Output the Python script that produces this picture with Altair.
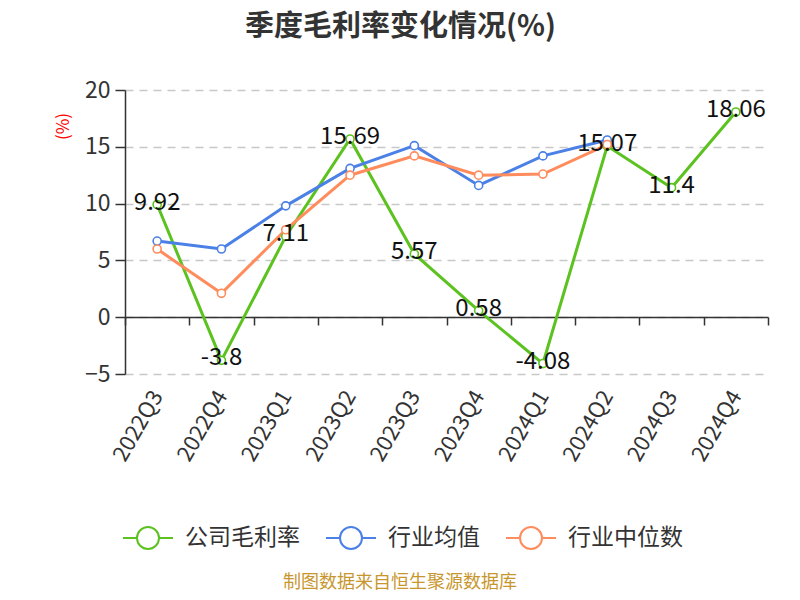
import altair as alt
import pandas as pd

quarters = ["2022Q3", "2022Q4", "2023Q1", "2023Q2", "2023Q3", "2023Q4",
            "2024Q1", "2024Q2", "2024Q3", "2024Q4"]
company = [9.92, -3.8, 7.11, 15.69, 5.57, 0.58, -4.08, 15.07, 11.4, 18.06]
ind_mean = [6.7, 6.0, 9.8, 13.1, 15.1, 11.6, 14.2, 15.6, None, None]
ind_median = [6.0, 2.1, 7.7, 12.5, 14.2, 12.5, 12.6, 15.2, None, None]

series_names = ["公司毛利率", "行业均值", "行业中位数"]
series_colors = ["#5BC21F", "#4B80E6", "#FF8C5C"]

rows = []
for name, vals in zip(series_names, [company, ind_mean, ind_median]):
    for q, v in zip(quarters, vals):
        if v is not None:
            rows.append({"quarter": q, "series": name, "value": v})
df = pd.DataFrame(rows)
df["order"] = df["series"].map({n: i for i, n in enumerate(series_names)})
df["label"] = df["value"].map(lambda v: f"{v:g}")

FONT = "Noto Sans CJK SC"

legend_path = ("M-1,0L-0.44,0M0.44,0L1,0M0.44,0A0.44,0.44,0,1,1,-0.44,0"
               "A0.44,0.44,0,1,1,0.44,0Z")

x_enc = alt.X("quarter:N", sort=quarters, bandPosition=0.5,
              scale=alt.Scale(type="band", paddingInner=0, paddingOuter=0),
              axis=alt.Axis(title=None, labelAngle=-60, labelFontSize=22,
                            labelColor="#333", labelFont=FONT,
                            domainColor="#333", domainWidth=1.5,
                            tickColor="#333", tickWidth=1.5, tickSize=8,
                            tickBand="extent", offset=-57,
                            labelPadding=67, grid=False,
                            labelAlign="right", labelBaseline="middle"))
y_enc = alt.Y("value:Q",
              scale=alt.Scale(domain=[-5, 20], nice=False, zero=False),
              axis=alt.Axis(values=[-5, 0, 5, 10, 15, 20], labelFontSize=23,
                            labelColor="#333", labelFont=FONT,
                            domainColor="#333", domainWidth=1.5,
                            tickColor="#333", tickWidth=1.5, tickSize=10,
                            labelPadding=5, gridDash=[8, 6],
                            gridColor="#c8c8c8", gridWidth=1.5,
                            title="(%)", titleColor="red", titleFontSize=17,
                            titleFontWeight="normal", titleFont=FONT,
                            titleAngle=-90, titleX=-62, titleY=36,
                            titleAlign="center", titleBaseline="middle"))

color_scale = alt.Scale(domain=series_names, range=series_colors)

base = alt.Chart(df)

lines = base.mark_line(strokeWidth=3).encode(
    x=x_enc, y=y_enc,
    color=alt.Color("series:N", scale=color_scale, sort=series_names,
                    legend=alt.Legend(title=None, orient="none",
                                      direction="horizontal",
                                      legendX=-3, legendY=422,
                                      symbolType=legend_path,
                                      symbolSize=2500,
                                      symbolStrokeWidth=2,
                                      symbolFillColor="white",
                                      labelFontSize=23, labelColor="#333",
                                      labelFont=FONT, labelOffset=11,
                                      columnPadding=22)),
    order="order:Q",
    detail="series:N",
)

points = base.mark_point(shape="circle", filled=False, fill="white",
                         size=65, strokeWidth=1.6, opacity=1).encode(
    x=x_enc, y=y_enc,
    stroke=alt.Stroke("series:N", scale=color_scale, legend=None),
)

labels = base.transform_filter(alt.datum.series == "公司毛利率").mark_text(
    fontSize=24, color="#111", font=FONT, baseline="middle", dy=-2
).encode(x=x_enc, y=y_enc, text="label:N")

source = alt.Chart(pd.DataFrame({"t": ["制图数据来自恒生聚源数据库"]})).mark_text(
    fontSize=18, color="#C8962E", font=FONT, baseline="middle"
).encode(x=alt.value(275), y=alt.value(493), text="t:N")

chart = alt.layer(lines, points, labels, source).properties(
    width=643, height=284,
    padding={"left": 117, "top": 82, "right": 24, "bottom": 218},
    autosize=alt.AutoSizeParams(type="none"),
    title=alt.TitleParams("季度毛利率变化情况(%)", fontSize=29, font=FONT,
                          fontWeight="bold", color="#333", anchor="middle",
                          dx=-46, offset=37),
).configure_view(stroke=None)

chart.save("out.html", embed_options={"renderer": "svg", "actions": False})
